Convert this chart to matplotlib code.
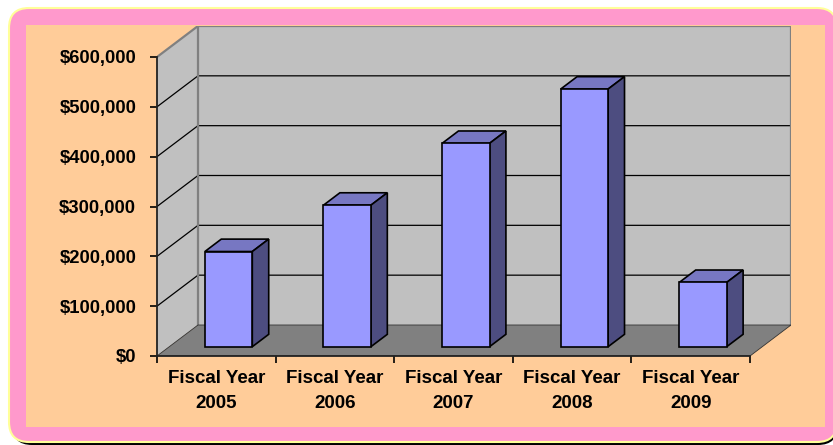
import numpy as np
import matplotlib
matplotlib.use("Agg")
import matplotlib.pyplot as plt
from matplotlib.patches import Polygon, FancyBboxPatch, Rectangle

plt.rcParams['font.family'] = ['Liberation Sans', 'DejaVu Sans']
plt.rcParams['font.weight'] = 'bold'

# data
categories = ["Fiscal Year\n2005", "Fiscal Year\n2006", "Fiscal Year\n2007",
              "Fiscal Year\n2008", "Fiscal Year\n2009"]
values = [191000, 284000, 408000, 517000, 129000]
y_ticks = [0, 100000, 200000, 300000, 400000, 500000, 600000]

W, H = 833, 445
fig = plt.figure(figsize=(W / 100, H / 100), dpi=100)

# frame (pixel space background axes)
bg = fig.add_axes([0, 0, 1, 1])
bg.set_xlim(0, W)
bg.set_ylim(H, 0)
bg.axis('off')
bg.add_patch(FancyBboxPatch((12, 11), 826, 434, boxstyle="round,pad=0,rounding_size=20",
                            fc='black', ec='none'))
bg.add_patch(FancyBboxPatch((9, 8), 828, 434, boxstyle="round,pad=0,rounding_size=20",
                            fc='#FF99CC', ec='#FFFF99', lw=1.5))
bg.add_patch(Rectangle((26, 25), 799, 402, fc='#FFCC99', ec='none'))

# 3d depth of the plot box, in data units
ymax = 600000
px_x = 593 / 5          # pixels per category
px_y = 299 / ymax       # pixels per dollar
DX = 41 / px_x
DY = 31 / px_y
d0, d1 = 0.3, 0.7       # bar depth range (fraction of box depth)
bw = 0.4

left, right = 157, 157 + 5 * px_x + 41
bottom, top = 356, 356 - 299 - 31
ax = fig.add_axes([left / W, 1 - bottom / H, (right - left) / W, (bottom - top) / H])
ax.set_xlim(0, 5 + DX)
ax.set_ylim(0, ymax + DY)
ax.patch.set_alpha(0)

n = len(categories)
wall = '#C0C0C0'
edge = '#808080'

# side wall, back wall, floor
ax.add_patch(Polygon([(0, 0), (DX, DY), (DX, ymax + DY), (0, ymax)], closed=True,
                     fc=wall, ec='none', zorder=1))
ax.add_patch(Polygon([(DX, DY), (n + DX, DY), (n + DX, ymax + DY), (DX, ymax + DY)],
                     closed=True, fc=wall, ec='none', zorder=1))
ax.add_patch(Polygon([(0, 0), (n, 0), (n + DX, DY), (DX, DY)], closed=True,
                     fc='#808080', ec='#333333', lw=0.6, zorder=2))

# gridlines
for v in y_ticks[1:-1]:
    ax.plot([0, DX, n + DX], [v, v + DY, v + DY], color='black', lw=0.9, zorder=1.5)

# wall borders
ax.plot([0, DX, n + DX, n + DX], [ymax, ymax + DY, ymax + DY, DY], color=edge, lw=1.6, zorder=1.6)
ax.plot([DX, DX], [DY, ymax + DY], color=edge, lw=1.6, zorder=1.6)

# bars: front faces with ax.bar, top and side as polygons
front_c, top_c, side_c = '#9999FF', '#7777C2', '#4D4D80'
x = np.arange(n) + 0.5 + d0 * DX
ax.bar(x, values, width=bw, bottom=d0 * DY, color=front_c, edgecolor='black', lw=1.2, zorder=4)
ddx, ddy = (d1 - d0) * DX, (d1 - d0) * DY
for xi, v in zip(x, values):
    x0, x1 = xi - bw / 2, xi + bw / 2
    y0, y1 = d0 * DY, d0 * DY + v
    ax.add_patch(Polygon([(x0, y1), (x1, y1), (x1 + ddx, y1 + ddy), (x0 + ddx, y1 + ddy)],
                         closed=True, fc=top_c, ec='black', lw=1.2, zorder=3))
    ax.add_patch(Polygon([(x1, y0), (x1 + ddx, y0 + ddy), (x1 + ddx, y1 + ddy), (x1, y1)],
                         closed=True, fc=side_c, ec='black', lw=1.2, zorder=3))

# axes
for s in ['top', 'right']:
    ax.spines[s].set_visible(False)
ax.spines['left'].set_bounds(0, ymax)
ax.spines['bottom'].set_bounds(0, n)
for s in ['left', 'bottom']:
    ax.spines[s].set_color('#222222')
    ax.spines[s].set_linewidth(1.3)
    ax.spines[s].set_zorder(5)

ax.set_yticks(y_ticks)
ax.set_yticklabels([f"${v:,.0f}" for v in y_ticks])
ax.set_xticks(np.arange(n + 1))
ax.set_xticklabels([])
ax.set_xticks(np.arange(n) + 0.5, minor=True)
ax.set_xticklabels(categories, minor=True, linespacing=1.6)
ax.tick_params(axis='y', length=5, width=1.2, pad=10, labelsize=13.3, colors='black')
ax.tick_params(axis='x', which='major', length=5, width=1.2, colors='black')
ax.tick_params(axis='x', which='minor', length=0, pad=10, labelsize=13.5)

fig.savefig('out.png', dpi=100)
